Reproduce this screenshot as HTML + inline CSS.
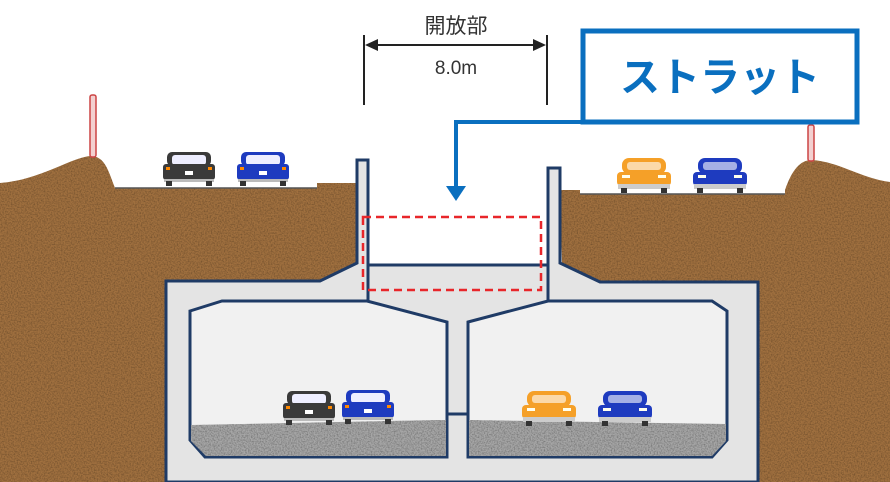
<!DOCTYPE html>
<html><head><meta charset="utf-8"><style>html,body{margin:0;padding:0;background:#fff}svg{display:block}</style></head>
<body>
<svg width="890" height="482" viewBox="0 0 890 482" xmlns="http://www.w3.org/2000/svg">
<defs>
<filter id="n" x="0" y="0" width="890" height="482" filterUnits="userSpaceOnUse"><feTurbulence type="fractalNoise" baseFrequency="0.7" numOctaves="2" seed="3"/><feColorMatrix values="0 0 0 0 0  0 0 0 0 0  0 0 0 0 0  0 0 0 1.2 -0.45"/></filter>
<clipPath id="soilclip"><path d="M0,183 C40,180 70,158 90,156 C105,156 108,170 115,188 L317,188 L317,183 L357,183 L357,263 L320,281 L166,281 L166,482 L0,482 Z M560,190 L580,190 L580,194 L785,194 L785,190 C792,170 800,160 812,160 C840,162 860,178 890,182 L890,482 L758,482 L758,282 L600,282 L562,263 Z"/></clipPath>
<clipPath id="gclip"><path d="M191,425 L440,420 L446,420 L446,456 L206,456 L191,441 Z M469,420 L726,424 L726,441 L712,456 L469,456 Z"/></clipPath>
<g id="carB"><rect x="4" y="0" width="44" height="14" rx="5" fill="currentColor"/><rect x="9" y="3" width="34" height="10" rx="3" fill="#eef"/><rect x="0" y="12" width="52" height="16" rx="3" fill="currentColor"/><rect x="3" y="15" width="4" height="3" fill="#f80"/><rect x="45" y="15" width="4" height="3" fill="#f80"/><rect x="22" y="19" width="8" height="4" fill="#fff"/><rect x="1" y="27" width="50" height="3" fill="#bbb"/><rect x="3" y="29" width="6" height="5" fill="#333"/><rect x="43" y="29" width="6" height="5" fill="#333"/></g>
<g id="carF"><rect x="5" y="0" width="44" height="16" rx="7" fill="currentColor"/><rect x="10" y="4" width="34" height="8" rx="3" fill="#fff" opacity=".6"/><rect x="0" y="14" width="54" height="14" rx="4" fill="currentColor"/><rect x="5" y="17" width="8" height="3" fill="#ffe"/><rect x="41" y="17" width="8" height="3" fill="#ffe"/><rect x="1" y="26" width="52" height="5" fill="#ccc"/><rect x="4" y="30" width="6" height="5" fill="#333"/><rect x="44" y="30" width="6" height="5" fill="#333"/></g>
</defs>
<!-- soil -->
<path d="M0,183 C40,180 70,158 90,156 C105,156 108,170 115,188 L317,188 L317,183 L357,183 L357,263 L320,281 L166,281 L166,482 L0,482 Z" fill="#a0703f"/>
<path d="M560,190 L580,190 L580,194 L785,194 L785,190 C792,170 800,160 812,160 C840,162 860,178 890,182 L890,482 L758,482 L758,282 L600,282 L562,263 Z" fill="#a0703f"/>
<g clip-path="url(#soilclip)"><rect width="890" height="482" filter="url(#n)" opacity=".45"/></g>
<line x1="115" y1="188" x2="317" y2="188" stroke="#555" stroke-width="1.5"/>
<line x1="580" y1="194" x2="785" y2="194" stroke="#555" stroke-width="1.5"/>
<!-- poles -->
<rect x="90" y="95" width="6" height="62" rx="2" fill="#f3d0d0" stroke="#c44" stroke-width="1.5"/>
<rect x="808" y="125" width="6" height="36" rx="2" fill="#f3d0d0" stroke="#c44" stroke-width="1.5"/>
<!-- concrete -->
<path d="M166,281 L320,281 L357,263 L357,160 L368,160 L368,265 L548,265 L548,168 L560,168 L560,263 L600,282 L758,282 L758,482 L166,482 Z" fill="#e4e4e4" stroke="#1f3b66" stroke-width="3"/>
<line x1="368" y1="265" x2="548" y2="265" stroke="#1f3b66" stroke-width="3"/>
<line x1="368" y1="263" x2="368" y2="301" stroke="#1f3b66" stroke-width="3"/>
<line x1="548" y1="263" x2="548" y2="301" stroke="#1f3b66" stroke-width="3"/>
<path d="M190,311 L222,301 L367,301 L447,322 L447,457 L205,457 L190,440 Z" fill="#f1f1f1" stroke="#1f3b66" stroke-width="3"/>
<path d="M468,322 L548,301 L712,301 L727,311 L727,440 L712,457 L468,457 Z" fill="#f1f1f1" stroke="#1f3b66" stroke-width="3"/>
<line x1="447" y1="414" x2="468" y2="414" stroke="#1f3b66" stroke-width="3"/>
<path d="M191,425 L440,420 L446,420 L446,456 L206,456 L191,441 Z" fill="#a6a6a6"/>
<path d="M469,420 L726,424 L726,441 L712,456 L469,456 Z" fill="#a6a6a6"/>
<g clip-path="url(#gclip)"><rect width="890" height="482" filter="url(#n)" opacity=".5"/></g>
<!-- red dashed -->
<rect x="363" y="217" width="178" height="73" fill="none" stroke="#e8262a" stroke-width="2.5" stroke-dasharray="8,5"/>
<!-- cars -->
<use href="#carB" x="163" y="152" color="#3a3a3a"/>
<use href="#carB" x="237" y="152" color="#1e3bbf"/>
<use href="#carF" x="617" y="158" color="#f5a028"/>
<use href="#carF" x="693" y="158" color="#1e3bbf"/>
<use href="#carB" x="283" y="391" color="#3a3a3a"/>
<use href="#carB" x="342" y="390" color="#1e3bbf"/>
<use href="#carF" x="522" y="391" color="#f5a028"/>
<use href="#carF" x="598" y="391" color="#1e3bbf"/>
<!-- dimension -->
<line x1="364" y1="35" x2="364" y2="105" stroke="#222" stroke-width="2"/>
<line x1="547" y1="35" x2="547" y2="105" stroke="#222" stroke-width="2"/>
<line x1="372" y1="45" x2="539" y2="45" stroke="#222" stroke-width="2"/>
<path d="M365,45 L378,39 L378,51 Z M546,45 L533,39 L533,51 Z" fill="#222"/>
<text x="456" y="33" font-family="Liberation Sans, Noto Sans CJK JP, sans-serif" font-size="21" text-anchor="middle" fill="#333">開放部</text>
<text x="456" y="74" font-family="Liberation Sans, sans-serif" font-size="19" text-anchor="middle" fill="#333">8.0m</text>
<!-- label -->
<rect x="583" y="31" width="274" height="91" fill="#fff" stroke="#0a6fbf" stroke-width="5"/>
<text x="720" y="91" font-family="Liberation Sans, Noto Sans CJK JP, sans-serif" font-size="40" font-weight="bold" text-anchor="middle" fill="#0a6fbf">ストラット</text>
<path d="M583,122 L456,122 L456,188" fill="none" stroke="#0a6fbf" stroke-width="4"/>
<path d="M446,186 L466,186 L456,201 Z" fill="#0a6fbf"/>
</svg>
</body></html>
